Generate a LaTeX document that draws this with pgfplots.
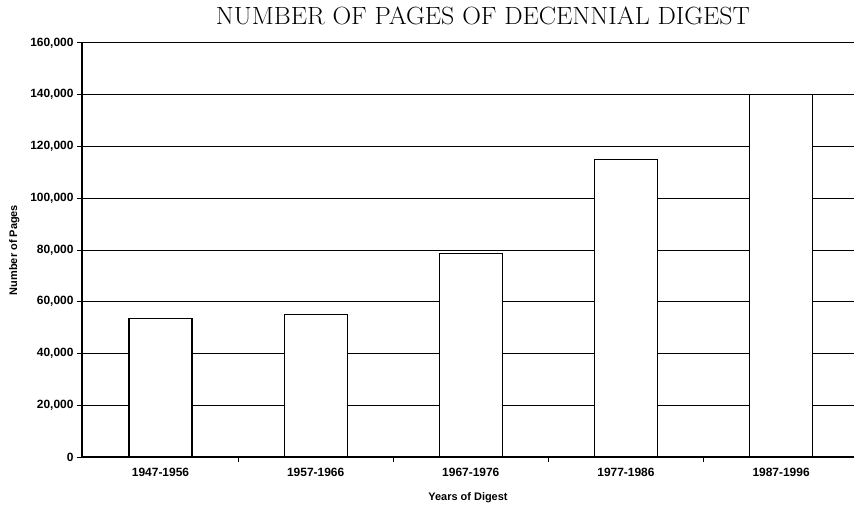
\documentclass[border=0pt]{standalone}
\usepackage{fontspec}
\setsansfont{Liberation Sans}
\usepackage{pgfplots}
\pgfplotsset{compat=1.18}
\begin{document}
\begin{tikzpicture}
\begin{axis}[
  at={(0,0)}, anchor=south west,
  scale only axis,
  width=772bp, height=414bp,
  xmin=-0.506, xmax=4.47,
  ymin=0, ymax=160000,
  axis x line*=bottom, axis y line*=left,
  axis line style={-, line width=1.4pt, black},
  ytick={0,20000,...,160000},
  ymajorgrids,
  grid style={black, line width=1pt},
  scaled y ticks=false,
  yticklabel style={/pgf/number format/.cd, fixed, 1000 sep={,}},
  /pgf/number format/assume math mode=true,
  ticklabel style={font=\sffamily\bfseries\fontsize{12}{14}\selectfont, text=black},
  tick align=outside,
  major tick length=5bp,
  tick style={black, line width=1pt},
  ytick pos=left,
  xtick={0.5,1.5,2.5,3.5},
  xticklabels={},
  extra x ticks={0,1,2,3,4},
  extra x tick labels={1947-1956,1957-1966,1967-1976,1977-1986,1987-1996},
  extra x tick style={major tick length=0pt, grid=none},
  xtick pos=bottom,
  xlabel={Years of Digest},
  ylabel={Number of Pages},
  label style={font=\sffamily\bfseries\fontsize{11}{13}\selectfont},
  xlabel style={yshift=-4bp},
  ylabel style={yshift=4bp},
  xticklabel style={yshift=-8bp},
  clip=false,
]
\addplot[ybar, bar width=63bp, fill=white, draw=black, line width=1.2pt]
  coordinates {(0,53500) (1,55000) (2,78500) (3,115000) (4,140000)};
\end{axis}
\node[anchor=base, font=\rmfamily\fontsize{25}{29}\selectfont] at (401bp,432bp) {\scalebox{1.04}[1]{NUMBER OF PAGES OF DECENNIAL DIGEST}};
\pgfresetboundingbox
\path[use as bounding box] (-82bp,-49bp) rectangle (772bp,457bp);
\end{tikzpicture}
\end{document}
